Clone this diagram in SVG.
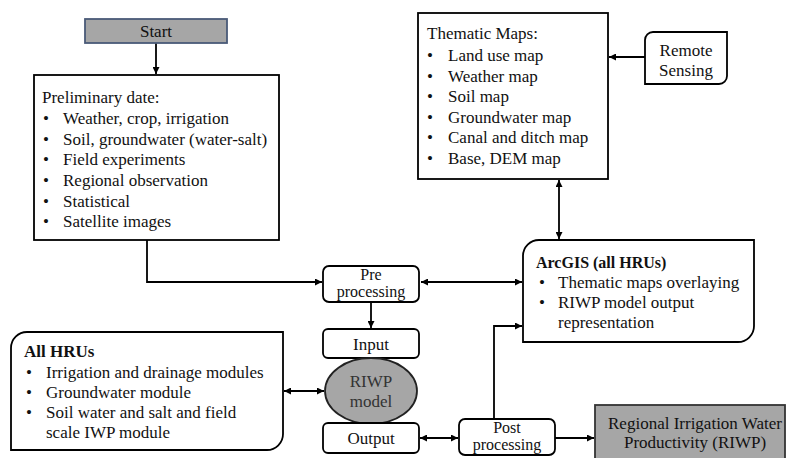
<svg xmlns="http://www.w3.org/2000/svg" width="786" height="458" viewBox="0 0 786 458">
<defs>
<marker id="ah" viewBox="0 0 10 10" refX="10" refY="5" markerWidth="7" markerHeight="7" markerUnits="userSpaceOnUse" orient="auto-start-reverse">
<path d="M0,0 L10,5 L0,10 Z" fill="#000"/>
</marker>
<style>
text{font-family:"Liberation Serif","Times New Roman",serif;font-size:17px;fill:#111}
.b{font-weight:bold}
.c{text-anchor:middle}
.s{font-size:16px}
.box{fill:#fff;stroke:#000;stroke-width:1.8}
.gray{fill:#a6a6a6;stroke:#333;stroke-width:1.8}
.ln{fill:none;stroke:#000;stroke-width:1.8}
</style>
</defs>
<rect width="786" height="458" fill="#fff"/>

<g id="connectors">
<line class="ln" x1="156" y1="43" x2="156" y2="74" marker-end="url(#ah)"/>
<polyline class="ln" points="147,240 147,282 322,282" marker-end="url(#ah)"/>
<line class="ln" x1="421" y1="282" x2="522" y2="282" marker-start="url(#ah)" marker-end="url(#ah)"/>
<line class="ln" x1="371" y1="302" x2="371" y2="328" marker-end="url(#ah)"/>
<line class="ln" x1="284" y1="391" x2="324" y2="391" marker-start="url(#ah)" marker-end="url(#ah)"/>
<line class="ln" x1="420" y1="438" x2="458" y2="438" marker-start="url(#ah)" marker-end="url(#ah)"/>
<polyline class="ln" points="494,419 494,326 522,326" marker-end="url(#ah)"/>
<line class="ln" x1="555" y1="438" x2="594" y2="438" marker-end="url(#ah)"/>
<line class="ln" x1="559" y1="180" x2="559" y2="239" marker-start="url(#ah)" marker-end="url(#ah)"/>
<line class="ln" x1="645" y1="57" x2="609" y2="57" marker-end="url(#ah)"/>
</g>

<g id="start">
<rect x="85" y="19" width="142" height="24" fill="#a6a6a6" stroke="#4a5a78" stroke-width="1.8"/>
<text class="c" x="156" y="37">Start</text>
</g>

<g id="preliminary">
<rect class="box" x="34" y="75" width="245" height="165"/>
<text x="42" y="103">Preliminary date:</text>
<text x="43" y="124">•</text><text x="63" y="124">Weather, crop, irrigation</text>
<text x="43" y="145">•</text><text x="63" y="145">Soil, groundwater (water-salt)</text>
<text x="43" y="165">•</text><text x="63" y="165">Field experiments</text>
<text x="43" y="186">•</text><text x="63" y="186">Regional observation</text>
<text x="43" y="207">•</text><text x="63" y="207">Statistical</text>
<text x="43" y="227">•</text><text x="63" y="227">Satellite images</text>
</g>

<g id="thematic">
<rect class="box" x="418" y="13" width="190" height="166"/>
<text x="427" y="39">Thematic Maps:</text>
<text x="427" y="61">•</text><text x="448" y="61">Land use map</text>
<text x="427" y="82">•</text><text x="448" y="82">Weather map</text>
<text x="427" y="102">•</text><text x="448" y="102">Soil map</text>
<text x="427" y="123">•</text><text x="448" y="123">Groundwater map</text>
<text x="427" y="143">•</text><text x="448" y="143">Canal and ditch map</text>
<text x="427" y="164">•</text><text x="448" y="164">Base, DEM map</text>
</g>

<g id="remote">
<path class="box" d="M653,32 H727 V76 A8,8 0 0 1 719,84 H645 V40 A8,8 0 0 1 653,32 Z"/>
<text class="c" x="686" y="56">Remote</text>
<text class="c" x="686" y="76">Sensing</text>
</g>

<g id="arcgis">
<path class="box" d="M539,240 H754 V326 A16,16 0 0 1 738,342 H523 V256 A16,16 0 0 1 539,240 Z"/>
<text class="b s" x="536" y="268">ArcGIS (all HRUs)</text>
<text x="539" y="288">•</text><text x="558" y="288">Thematic maps overlaying</text>
<text x="539" y="308">•</text><text x="558" y="308">RIWP model output</text>
<text x="558" y="328">representation</text>
</g>

<g id="preprocessing">
<rect class="box" x="323" y="266" width="96" height="36" rx="6"/>
<text class="c s" x="371" y="280">Pre</text>
<text class="c s" x="371" y="297">processing</text>
</g>

<g id="input">
<rect class="box" x="323" y="329" width="96" height="29" rx="5"/>
<text class="c" x="371" y="350">Input</text>
</g>

<g id="model">
<ellipse cx="371" cy="391" rx="46" ry="33" fill="#a6a6a6" stroke="#222" stroke-width="1.8"/>
<text class="c" x="371" y="387" style="fill:#333">RIWP</text>
<text class="c" x="371" y="407" style="fill:#333">model</text>
</g>

<g id="output">
<rect class="box" x="323" y="423" width="96" height="30" rx="5"/>
<text class="c" x="371" y="444">Output</text>
</g>

<g id="allhrus">
<path class="box" d="M27,332 H283 V434 A16,16 0 0 1 267,450 H11 V348 A16,16 0 0 1 27,332 Z"/>
<text class="b" x="24" y="357">All HRUs</text>
<text x="26" y="378">•</text><text x="46" y="378">Irrigation and drainage modules</text>
<text x="26" y="398">•</text><text x="46" y="398">Groundwater module</text>
<text x="26" y="418">•</text><text x="46" y="418">Soil water and salt and field</text>
<text x="46" y="438">scale IWP module</text>
</g>

<g id="postprocessing">
<rect class="box" x="459" y="419" width="96" height="36" rx="6"/>
<text class="c s" x="507" y="433">Post</text>
<text class="c s" x="507" y="450">processing</text>
</g>

<g id="riwp">
<rect class="gray" x="595" y="405" width="190" height="60"/>
<text class="c" x="695" y="429">Regional Irrigation Water</text>
<text class="c" x="695" y="448">Productivity (RIWP)</text>
</g>
</svg>
